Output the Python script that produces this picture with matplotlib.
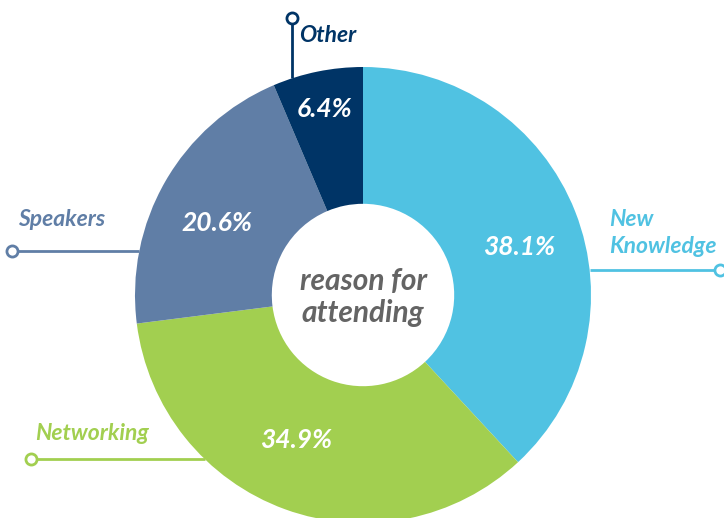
import matplotlib.pyplot as plt
import numpy as np

categories = ['New\nKnowledge', 'Networking', 'Speakers', 'Other']
shares = [38.1, 34.9, 20.6, 6.4]
colors = ['#50c2e2', '#a2cf50', '#607ea6', '#003466']
center_text = 'reason for\nattending'

W, H = 724, 518
FONT = 'Lato'

fig = plt.figure(figsize=(W / 100, H / 100), dpi=100)
ax = fig.add_axes([0, 0, 1, 1])

cx, cy, R = 363, H - 295, 228

wedges, texts, autotexts = ax.pie(
    shares, colors=colors, startangle=90, counterclock=False,
    center=(cx, cy), radius=R, frame=True,
    wedgeprops=dict(width=R * 0.6, linewidth=0),
    autopct='%.1f%%', pctdistance=0.72,
    textprops=dict(color='white', fontsize=19, fontweight='bold',
                   fontstyle='italic', family=FONT))

# nudge the numbers a bit: (distance as share of radius, angle shift in deg)
pct_place = [(0.72, -3.6), (0.69, -5), (0.72, 3), (0.84, 0)]
for w, t, (d, shift) in zip(wedges, autotexts, pct_place):
    a = np.deg2rad((w.theta1 + w.theta2) / 2 + shift)
    t.set_position((cx + d * R * np.cos(a), cy - 2 + d * R * np.sin(a)))

ax.text(cx, cy - 2, center_text, ha='center', va='center', fontsize=21.5,
        fontweight='bold', fontstyle='italic', color='#646464',
        family=FONT, linespacing=1.2)

# callouts: label position, line start (dot), line end on ring
def ring_x(y, side):
    return cx + side * np.sqrt(R ** 2 - (y - cy) ** 2)

def ring_y(x):
    return cy + np.sqrt(R ** 2 - (x - cx) ** 2)

callouts = [
    # (label xy, ha, dot xy, end xy)
    ((609, H - 233), 'left', (720, H - 270), (ring_x(H - 270, 1), H - 270)),
    ((35, H - 433), 'left', (31, H - 459), (ring_x(H - 459, -1), H - 459)),
    ((18, H - 220), 'left', (12, H - 251), (ring_x(H - 251, -1), H - 251)),
    ((299, H - 35), 'left', (292, H - 18), (292, ring_y(292))),
]

for (lab, ha, dot, end), name, col in zip(callouts, categories, colors):
    ax.plot([dot[0], end[0]], [dot[1], end[1]], color=col, lw=2, zorder=1,
            solid_capstyle='butt')
    ax.plot(dot[0], dot[1], 'o', ms=8, mfc='white', mec=col, mew=2, zorder=3)
    ax.text(lab[0], lab[1], name, ha=ha, va='center', color=col, fontsize=16.5,
            fontweight='bold', fontstyle='italic', family=FONT, linespacing=1.3)

ax.set_xlim(0, W)
ax.set_ylim(0, H)
ax.set_aspect('equal')
ax.axis('off')

fig.savefig('out.png', dpi=100)
